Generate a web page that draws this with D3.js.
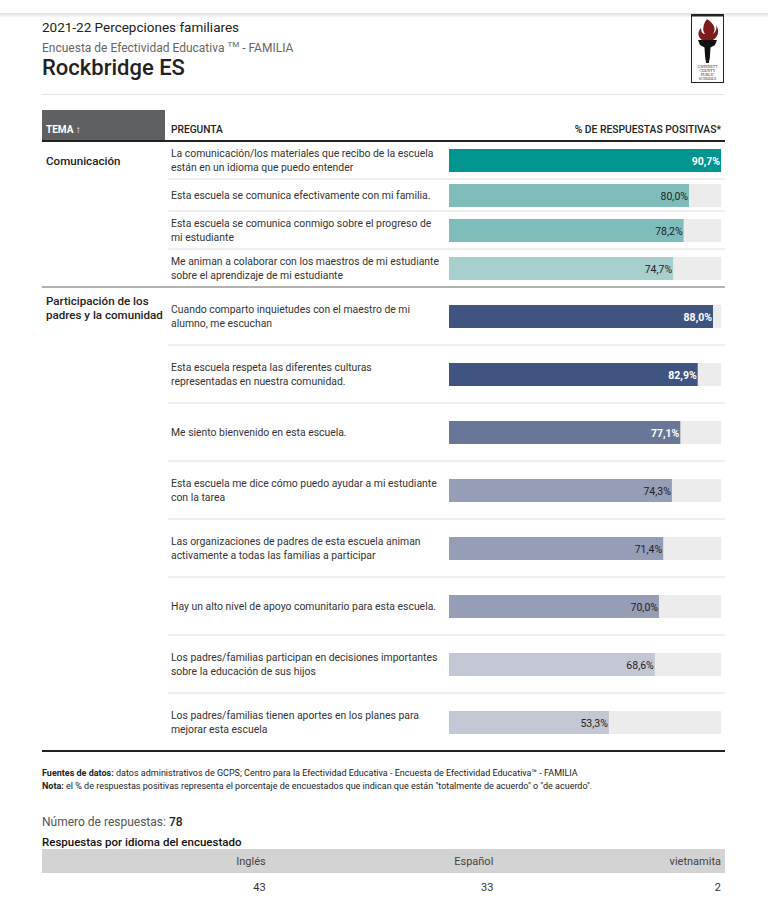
<!DOCTYPE html>
<html><head><meta charset="utf-8">
<script src="https://cdn.jsdelivr.net/npm/d3@7"></script>
<style>
html,body{margin:0;padding:0;background:#fff;}
svg{display:block;font-family:Roboto,"Noto Sans",sans-serif;}
</style></head><body>
<svg id="chart" width="768" height="910"></svg>
<script>
// ---------- DATA ----------
const titleLine = "2021-22 Percepciones familiares";
const schoolName = "Rockbridge ES";
const groups = ["Comunicación", "Participación de los\npadres y la comunidad"];
const questionGroup = [0, 0, 0, 0, 1, 1, 1, 1, 1, 1, 1, 1];
const questions = [
  "La comunicación/los materiales que recibo de la escuela\nestán en un idioma que puedo entender",
  "Esta escuela se comunica efectivamente con mi familia.",
  "Esta escuela se comunica conmigo sobre el progreso de\nmi estudiante",
  "Me animan a colaborar con los maestros de mi estudiante\nsobre el aprendizaje de mi estudiante",
  "Cuando comparto inquietudes con el maestro de mi\nalumno, me escuchan",
  "Esta escuela respeta las diferentes culturas\nrepresentadas en nuestra comunidad.",
  "Me siento bienvenido en esta escuela.",
  "Esta escuela me dice cómo puedo ayudar a mi estudiante\ncon la tarea",
  "Las organizaciones de padres de esta escuela animan\nactivamente a todas las familias a participar",
  "Hay un alto nivel de apoyo comunitario para esta escuela.",
  "Los padres/familias participan en decisiones importantes\nsobre la educación de sus hijos",
  "Los padres/familias tienen aportes en los planes para\nmejorar esta escuela"
];
const positive = [90.7, 80.0, 78.2, 74.7, 88.0, 82.9, 77.1, 74.3, 71.4, 70.0, 68.6, 53.3];
const languages = ["Inglés", "Español", "vietnamita"];
const languageCounts = [43, 33, 2];
const totalResponses = 78;

// ---------- LAYOUT / STYLE ----------
const L = {left: 42, right: 725, qx: 171, headerTop: 110, tableTop: 141, barH: 23};
const groupColors = [
  d3.scaleThreshold().domain([75, 85]).range(["#a7cfcd", "#7fbdba", "#00968f"]),
  d3.scaleThreshold().domain([70, 75, 80]).range(["#c3c7d4", "#959db7", "#687697", "#3f5580"])
];
const locale = d3.formatLocale({decimal: ",", thousands: ".", grouping: [3], currency: ["", "€"]});
const fmt = v => locale.format(".1f")(v) + "%";

const svg = d3.select("#chart");

// top bar shadow
const defs = svg.append("defs");
const g1 = defs.append("linearGradient").attr("id", "shadow").attr("x1", 0).attr("x2", 0).attr("y1", 0).attr("y2", 1);
g1.append("stop").attr("offset", 0).attr("stop-color", "#000").attr("stop-opacity", 0.13);
g1.append("stop").attr("offset", 1).attr("stop-color", "#000").attr("stop-opacity", 0);
svg.append("rect").attr("x", 0).attr("y", 13).attr("width", 768).attr("height", 5).attr("fill", "url(#shadow)");

// titles
svg.append("text").attr("x", L.left).attr("y", 32).attr("font-size", 13.5).attr("font-weight", 400).attr("fill", "#222").text(titleLine);
const sub = svg.append("text").attr("x", L.left).attr("y", 52).attr("font-size", 12).attr("fill", "#666");
sub.append("tspan").text("Encuesta de Efectividad Educativa ");
sub.append("tspan").attr("font-size", 8).attr("dy", -5).text("TM");
sub.append("tspan").attr("dy", 5).text(" - FAMILIA");
svg.append("text").attr("x", L.left).attr("y", 75).attr("font-size", 22).attr("font-weight", 500).attr("fill", "#222").text(schoolName);
svg.append("line").attr("x1", L.left).attr("x2", L.right).attr("y1", 94.5).attr("y2", 94.5).attr("stroke", "#e6e6e6");

// logo
const logo = svg.append("g");
logo.append("rect").attr("x", 691.5).attr("y", 14.5).attr("width", 32).attr("height", 68).attr("fill", "#fff").attr("stroke", "#222");
logo.append("rect").attr("x", 691).attr("y", 14).attr("width", 33).attr("height", 2.5).attr("fill", "#222");
logo.append("path").attr("d", "M707,19 C713,23 717,28 713,34 C716,31 717,29 716,25 C720,31 718,37 713,40 L702,40 C698,37 697,32 701,28 C701,32 703,34 705,34 C702,30 703,24 707,19 Z").attr("fill", "#7d1c1c");
logo.append("path").attr("d", "M698,40 L717,40 L715,45 L710.5,47.5 L709.8,58 L708.8,63 L706.2,63 L705.2,58 L704.5,47.5 L700,45 Z").attr("fill", "#111");
["GWINNETT", "COUNTY", "PUBLIC", "SCHOOLS"].forEach((t, i) => {
  logo.append("text").attr("x", 707.5).attr("y", 68 + i * 4).attr("text-anchor", "middle")
    .attr("font-size", 3.8).attr("font-family", "Liberation Serif, serif").attr("fill", "#3a1010").text(t);
});

// header
svg.append("rect").attr("x", L.left).attr("y", L.headerTop).attr("width", 123).attr("height", 30).attr("fill", "#5f6061");
svg.append("text").attr("x", 46).attr("y", 133).attr("font-size", 10).attr("font-weight", 700).attr("fill", "#fff").text("TEMA ↑");
svg.append("text").attr("x", L.qx).attr("y", 133).attr("font-size", 10.2).attr("font-weight", 500).attr("fill", "#222").text("PREGUNTA");
svg.append("text").attr("x", 721).attr("y", 133).attr("text-anchor", "end").attr("font-size", 10.3).attr("font-weight", 500).attr("fill", "#222").text("% DE RESPUESTAS POSITIVAS*");

// rows
const rows = questions.map((q, i) => ({q, v: positive[i], g: questionGroup[i], lines: q.split("\n")}));
let yAcc = L.tableTop;
rows.forEach(r => {
  r.h = r.g === 0 ? (r.lines.length > 1 ? 38 : 32) : 58;
  r.y = yAcc; yAcc += r.h;
});
const x = d3.scaleLinear().domain([0, 100]).range([449, 749]);
const vmax = d3.max(positive);

const rowG = svg.append("g").selectAll("g").data(rows).join("g");
rowG.append("rect").attr("x", x(0)).attr("width", x(vmax) - x(0))
  .attr("y", d => d.y + d.h / 2 - L.barH / 2 + 0.5).attr("height", L.barH).attr("fill", "#ececec");
rowG.append("rect").attr("x", x(0)).attr("width", d => x(d.v) - x(0))
  .attr("y", d => d.y + d.h / 2 - L.barH / 2 + 0.5).attr("height", L.barH).attr("fill", d => groupColors[d.g](d.v));
rowG.append("text").attr("x", d => x(d.v) - 1).attr("y", d => d.y + d.h / 2 + 4.5)
  .attr("text-anchor", "end").attr("font-size", 10.5)
  .attr("font-weight", d => d3.hsl(groupColors[d.g](d.v)).l < 0.55 ? 700 : 400)
  .attr("fill", d => d3.hsl(groupColors[d.g](d.v)).l < 0.55 ? "#fff" : "#222")
  .text(d => fmt(d.v));
rowG.append("text").attr("font-size", 10.4).attr("fill", "#333")
  .each(function (d) {
    const n = d.lines.length;
    d3.select(this).selectAll("tspan").data(d.lines).join("tspan")
      .attr("x", L.qx).attr("y", (t, j) => d.y + d.h / 2 + 4 + (j - (n - 1) / 2) * 14).text(t => t);
  });
rowG.append("line")
  .attr("x1", (d, i) => (i < rows.length - 1 && rows[i + 1].g === d.g) ? 168 : L.left)
  .attr("x2", L.right)
  .attr("y1", d => d.y + d.h).attr("y2", d => d.y + d.h)
  .attr("stroke", (d, i) => i === rows.length - 1 ? "#222" : (rows[i + 1].g === d.g ? "#dedede" : "#999"))
  .attr("stroke-width", (d, i) => i === rows.length - 1 ? 2 : (rows[i + 1].g === d.g ? 1 : 1.5));

svg.append("line").attr("x1", L.left).attr("x2", L.right).attr("y1", L.tableTop).attr("y2", L.tableTop).attr("stroke", "#222").attr("stroke-width", 2);

// group labels
const labelOffsets = [24, 18];
groups.forEach((gname, gi) => {
  const first = rows.find(r => r.g === gi);
  const t = svg.append("text").attr("font-size", 11.6).attr("font-weight", 500).attr("fill", "#222");
  gname.split("\n").forEach((ln, j) => {
    t.append("tspan").attr("x", 46).attr("y", first.y + labelOffsets[gi] + j * 13.5).text(ln);
  });
});

// footnotes
const tableBottom = yAcc;
const f1 = svg.append("text").attr("x", L.left).attr("y", tableBottom + 25).attr("font-size", 9).attr("fill", "#222");
f1.append("tspan").attr("font-weight", 700).text("Fuentes de datos:");
f1.append("tspan").text(" datos administrativos de GCPS; Centro para la Efectividad Educativa - Encuesta de Efectividad Educativa™ - FAMILIA");
const f2 = svg.append("text").attr("x", L.left).attr("y", tableBottom + 38).attr("font-size", 9).attr("fill", "#222");
f2.append("tspan").attr("font-weight", 700).text("Nota:");
f2.append("tspan").text(" el % de respuestas positivas representa el porcentaje de encuestados que indican que están \"totalmente de acuerdo\" o \"de acuerdo\".");

const nr = svg.append("text").attr("x", L.left).attr("y", 826).attr("font-size", 12).attr("fill", "#555");
nr.append("tspan").text("Número de respuestas: ");
nr.append("tspan").attr("font-weight", 500).attr("fill", "#222").text(totalResponses);
svg.append("text").attr("x", L.left).attr("y", 846).attr("font-size", 11.5).attr("font-weight", 500).attr("fill", "#111").text("Respuestas por idioma del encuestado");

const cx = d3.scaleBand().domain(languages).range([L.left, L.right]);
svg.append("rect").attr("x", L.left).attr("y", 849).attr("width", L.right - L.left).attr("height", 24).attr("fill", "#d3d3d3");
svg.append("g").selectAll("text").data(languages).join("text")
  .attr("x", d => cx(d) + cx.bandwidth() - 4).attr("y", 865).attr("text-anchor", "end")
  .attr("font-size", 11).attr("fill", "#444").text(d => d);
svg.append("g").selectAll("text").data(languages).join("text")
  .attr("x", d => cx(d) + cx.bandwidth() - 4).attr("y", 891).attr("text-anchor", "end")
  .attr("font-size", 11).attr("fill", "#333").text((d, i) => languageCounts[i]);
</script>
</body></html>
